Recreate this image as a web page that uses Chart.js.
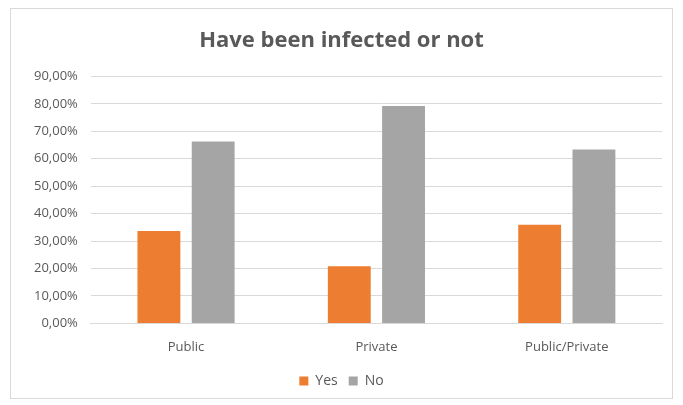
<!DOCTYPE html>
<html>
<head>
<meta charset="utf-8">
<script src="https://cdn.jsdelivr.net/npm/chart.js@4/dist/chart.umd.min.js"></script>
<style>
  html, body { margin: 0; padding: 0; background: #ffffff; }
  #frame {
    position: absolute; left: 10px; top: 8px;
    width: 661px; height: 389px;
    border: 1px solid #d9d9d9; background: #ffffff;
  }
  #chart { display: block; }
</style>
</head>
<body>
<div id="frame"><canvas id="chart" width="661" height="389"></canvas></div>
<script>
const categories = ["Public", "Private", "Public/Private"];
const yesValues = [33.7, 20.8, 35.9];
const noValues = [66.3, 79.2, 63.4];
const seriesNames = ["Yes", "No"];
const chartTitle = "Have been infected or not";

const fontFamily = "'Open Sans', sans-serif";
const textColor = "#595959";

new Chart(document.getElementById("chart"), {
  type: "bar",
  data: {
    labels: categories,
    datasets: [
      { label: seriesNames[0], data: yesValues, backgroundColor: "#ed7d31",
        categoryPercentage: 0.57, barPercentage: 0.79 },
      { label: seriesNames[1], data: noValues, backgroundColor: "#a5a5a5",
        categoryPercentage: 0.57, barPercentage: 0.79 }
    ]
  },
  options: {
    responsive: false,
    animation: false,
    layout: { padding: { left: 10, right: 10, top: 12, bottom: 0 } },
    plugins: {
      title: {
        display: true, text: chartTitle, color: textColor,
        font: { family: fontFamily, size: 22, weight: "bold" },
        padding: { top: 7, bottom: 22 }
      },
      legend: {
        position: "bottom",
        labels: {
          color: textColor, boxWidth: 9, boxHeight: 9, padding: 11,
          font: { family: fontFamily, size: 14 }
        }
      },
      tooltip: { enabled: false }
    },
    scales: {
      x: {
        grid: { display: false },
        border: { color: "#d9d9d9" },
        ticks: { color: textColor, font: { family: fontFamily, size: 13 }, padding: 8 }
      },
      y: {
        min: 0, max: 90,
        grid: { color: "#d9d9d9", drawTicks: false },
        border: { display: false },
        ticks: {
          stepSize: 10, color: textColor, padding: 13,
          font: { family: fontFamily, size: 13 },
          callback: v => v.toFixed(2).replace(".", ",") + "%"
        }
      }
    }
  }
});
</script>
</body>
</html>
